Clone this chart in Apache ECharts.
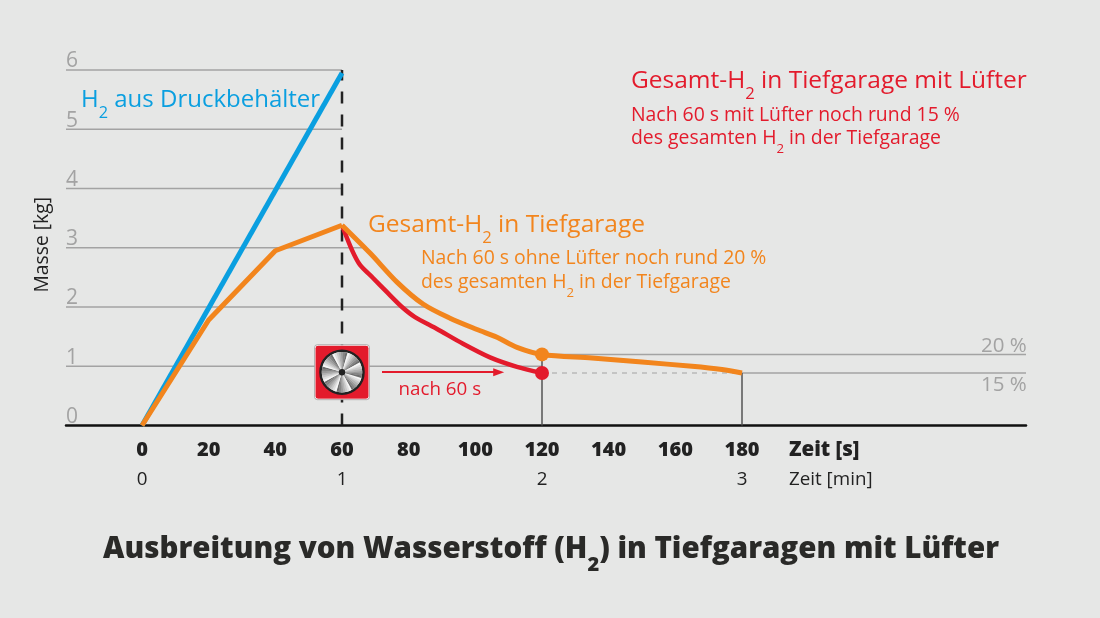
<!DOCTYPE html>
<html lang="de">
<head>
  <meta charset="UTF-8">
  <title>Ausbreitung von Wasserstoff</title>
  <style>
    html, body { margin: 0; padding: 0; background: #e6e7e6; }
    #chart { width: 1100px; height: 618px; }
  </style>
</head>
<body>
  <div id="chart"></div>
  <script src="https://cdn.jsdelivr.net/npm/echarts@6/dist/echarts.min.js"></script>
  <script>
    // values: [Zeit s, Masse kg]
    var druckbehaelter = [[0, 0], [60, 5.95]];
    var ohneAnstieg = [[0, 0], [20, 1.78], [40, 2.95], [60, 3.38]];
    var ohneAbfall = [[60, 3.38], [68.4, 2.91], [76.5, 2.42], [84.3, 2.05], [92.4, 1.81],
      [100.5, 1.62], [106.5, 1.49], [112.5, 1.32], [120, 1.2], [135, 1.14], [150, 1.07], [165, 1], [174, 0.945], [180, 0.886]];
    var mitLuefter = [[60, 3.38], [63, 2.96], [65.4, 2.71], [69.3, 2.49], [73.5, 2.25], [78, 2], [81.9, 1.83], [88.5, 1.63],
      [96.3, 1.38], [104.4, 1.15], [112.5, 0.99], [120, 0.886]];
    var punkte = [[120, 1.2], [120, 0.886]];
    var sekunden = [0, 20, 40, 60, 80, 100, 120, 140, 160, 180];
    var minuten = [0, 60, 120, 180];
    // gridline value, and where it stops on the time axis
    var gitterWerte = [1, 2, 3, 4, 5, 6];
    var gitterEnde = [120, 85, 66, 60, 60, 60];

    var xMin = -22.8, xMax = 265.2;
    var font = '"Open Sans", "Noto Sans", sans-serif';
    var blau = '#0a9fe0', orange = '#f2851d', rot = '#e31b2c', grau = '#a3a3a3';

    function linie(data, color, width, z, type, smooth) {
      return {
        type: 'line', data: data, symbol: 'none', clip: false, z: z, silent: true, smooth: smooth || false,
        lineStyle: { color: color, width: width, type: type || 'solid', cap: 'butt', join: 'round' }
      };
    }

    // text with subscript H2, "{t|..}" runs and "{s|2}" runs
    function text(left, top, str, size, color, weight, extra) {
      var opt = {
        type: 'text', z: 50, left: left, top: top,
        style: {
          text: str, fill: color, font: (weight || 400) + ' ' + size + 'px ' + font,
          lineHeight: size * 1.25,
          rich: {
            t: { fontFamily: font, fontSize: size, fontWeight: weight || 400, fill: color, lineHeight: size * 1.25, verticalAlign: 'top' },
            s: { fontFamily: font, fontSize: size * 0.68, fontWeight: weight || 400, fill: color, lineHeight: size * 1.37, verticalAlign: 'bottom' }
          }
        }
      };
      for (var k in extra) opt[k] = extra[k];
      return opt;
    }

    // fan icon, anchored on the 60 s line
    function luefter(params, api) {
      var p = api.coord([api.value(0), api.value(1)]);
      var kids = [
        { type: 'rect', shape: { x: -27, y: -27, width: 54, height: 54, r: 3 }, style: { fill: rot, stroke: '#fff', lineWidth: 1 } },
        { type: 'rect', shape: { x: -27.5, y: -27.5, width: 55, height: 55, r: 3 }, style: { fill: 'none', stroke: '#888', lineWidth: 0.6 } },
        { type: 'circle', shape: { cx: 0, cy: 0, r: 21.5 }, style: { fill: '#eee', stroke: '#222', lineWidth: 2.5 } }
      ];
      // 8 blades, each shaded from white to dark grey in small steps
      var steps = 7, blatt = Math.PI / 4;
      for (var i = 0; i < 8; i++) {
        for (var j = 0; j < steps; j++) {
          var a = i * blatt + 0.28 + j * blatt / steps;
          var g = Math.round(245 - 135 * j / (steps - 1));
          kids.push({
            type: 'sector',
            shape: { cx: 0, cy: 0, r0: 2, r: 20.2, startAngle: a, endAngle: a + blatt / steps + 0.01 },
            style: { fill: 'rgb(' + g + ',' + g + ',' + g + ')' }
          });
        }
      }
      kids.push({ type: 'circle', shape: { cx: 0, cy: 0, r: 3.2 }, style: { fill: '#222' } });
      return { type: 'group', x: p[0], y: p[1], children: kids };
    }

    var series = [];
    gitterWerte.forEach(function (v, i) {
      series.push(linie([[xMin, v], [gitterEnde[i], v]], grau, 1.5, 1));
    });
    series.push(linie([[120, 1.2], [xMax, 1.2]], grau, 1.5, 1));
    series.push(linie([[180, 0.886], [xMax, 0.886]], grau, 1.5, 1));
    series.push(linie([[120, 0.886], [180, 0.886]], grau, 1, 1, [5, 5]));
    series.push(linie([[120, 0], [120, 1.2]], '#555', 1.5, 2));
    series.push(linie([[180, 0], [180, 0.886]], '#555', 1.5, 2));
    series.push(linie([[60, 0], [60, 6]], '#222', 2.5, 3, [12, 11]));
    series.push(linie(druckbehaelter, blau, 5, 4));
    series.push(linie(mitLuefter, rot, 4.5, 5, null, 0.25));
    series.push(linie(ohneAnstieg, orange, 5, 6));
    series.push(linie(ohneAbfall, orange, 5, 6, null, 0.3));
    series.push({
      type: 'scatter', data: punkte, symbolSize: 14, z: 7, silent: true,
      itemStyle: { opacity: 1, color: function (p) { return p.dataIndex === 0 ? orange : rot; } }
    });
    series.push({
      type: 'custom', data: [[60, 0.9]], renderItem: luefter, z: 8, silent: true, clip: false
    });
    // arrow "nach 60 s"
    series.push({
      type: 'line', data: [], z: 8, silent: true,
      markLine: {
        silent: true, animation: false, symbol: ['none', 'triangle'], symbolSize: [8, 11],
        lineStyle: { color: rot, width: 2, type: 'solid' }, label: { show: false },
        data: [[{ coord: [72, 0.9] }, { coord: [107, 0.9] }]]
      }
    });

    var myChart = echarts.init(document.getElementById('chart'));
    myChart.setOption({
      animation: false,
      backgroundColor: '#e6e7e6',
      textStyle: { fontFamily: font },
      grid: { left: 66, right: 74, top: 70, bottom: 192.5 },
      xAxis: [{
        type: 'value', min: xMin, max: xMax, splitLine: { show: false }, axisTick: { show: false },
        axisLine: { lineStyle: { color: '#111', width: 2.5 } },
        axisLabel: { customValues: sekunden, margin: 15, fontSize: 20, fontWeight: 800, color: '#222', fontFamily: font }
      }, {
        type: 'value', position: 'bottom', offset: 30, min: xMin, max: xMax, splitLine: { show: false },
        axisTick: { show: false }, axisLine: { show: false },
        axisLabel: {
          customValues: minuten, margin: 15, fontSize: 18.8, color: '#222', fontFamily: font,
          formatter: function (v) { return v / 60; }
        }
      }],
      yAxis: {
        type: 'value', min: 0, max: 6, interval: 1, splitLine: { show: false }, axisTick: { show: false }, axisLine: { show: false },
        axisLabel: { inside: true, margin: 0, align: 'left', verticalAlign: 'bottom', fontSize: 21, color: grau, fontFamily: font, lineHeight: 17 }
      },
      series: series,
      graphic: [
        text(81, 88, '{t|H}{s|2}{t| aus Druckbehälter}', 24, blau),
        text(368, 213, '{t|Gesamt-H}{s|2}{t| in Tiefgarage}', 24.5, orange),
        text(421, 246, 'Nach 60 s ohne Lüfter noch rund 20 %', 19.4, orange),
        text(421, 273, '{t|des gesamten H}{s|2}{t| in der Tiefgarage}', 19.4, orange),
        text(631, 69, '{t|Gesamt-H}{s|2}{t| in Tiefgarage mit Lüfter}', 24.5, rot),
        text(631, 103, 'Nach 60 s mit Lüfter noch rund 15 %', 19.4, rot),
        text(631, 129, '{t|des gesamten H}{s|2}{t| in der Tiefgarage}', 19.4, rot),
        text(398.5, 378, 'nach 60 s', 18.8, rot),
        text(981, 333, '20 %', 20.5, grau),
        text(981, 372, '15 %', 20.5, grau),
        text(789, 437, 'Zeit [s]', 20.5, '#222', 800),
        text(789, 468, 'Zeit [min]', 18.8, '#222'),
        text(30, 197, 'Masse [kg]', 19.3, '#222', 400, { rotation: Math.PI / 2 }),
        text(103, 535, '{t|Ausbreitung von Wasserstoff (H}{s|2}{t|) in Tiefgaragen mit Lüfter}', 29.5, '#2a2a28', 800)
      ]
    });
  </script>
</body>
</html>
